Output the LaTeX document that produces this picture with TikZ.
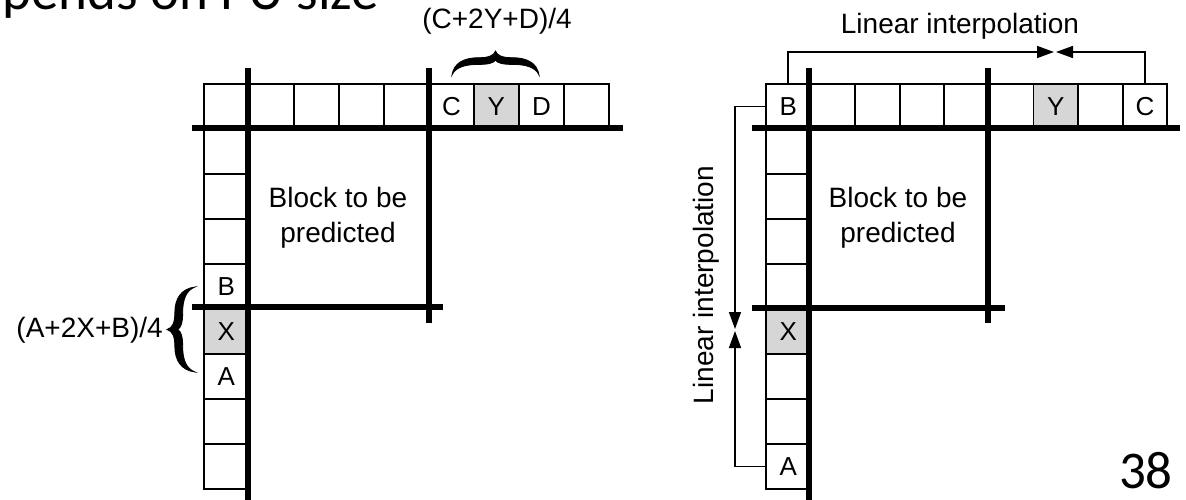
\documentclass[tikz,border=0pt]{standalone}
\usepackage{fontspec}
\setmainfont{Liberation Sans}
\newfontfamily\calibrifont{Carlito}
\usetikzlibrary{arrows.meta}
\begin{document}
\begin{tikzpicture}[x=1pt,y=-1pt,
  cellbox/.style={draw, line width=1.8pt, minimum width=45pt, minimum height=45pt, inner sep=0pt, anchor=north west, font=\fontsize{26}{30}\selectfont},
  rcellbox/.style={cellbox, minimum width=44.6pt},
  shaded/.style={fill=black!16},
  thickline/.style={line width=5.5pt},
  conn/.style={line width=1.6pt, -{Triangle[length=17pt,width=12pt]}},
  lbl/.style={font=\fontsize{28}{35}\selectfont, inner sep=0pt},
  bracefill/.style={fill=black, draw=black, line width=0.8pt}
  ]
\clip (0,0) rectangle (1186,500);
\fill[white] (0,0) rectangle (1186,500);

% title (cut at top) and page number
\node[anchor=base west, inner sep=0pt, font=\calibrifont\fontsize{55}{60}\selectfont] (title) at (2,10) {pends on PU size};
\node[anchor=base east, inner sep=0pt, font=\calibrifont\fontsize{53}{58}\selectfont] (pagenum) at (1173,488) {38};

% ---------------- left diagram ----------------
\foreach \i in {1,2,3,4,5,9}
  \node[cellbox] (Lt\i) at ({203+45*(\i-1)},83) {};
\node[cellbox] (LC) at ({203+45*5},83) {C};
\node[cellbox, shaded] (LY) at ({203+45*6},83) {Y};
\node[cellbox] (LD) at ({203+45*7},83) {D};
\foreach \r in {2,3,4,8,9}
  \node[cellbox] (Lc\r) at (203,{83+45*(\r-1)}) {};
\node[cellbox] (LB) at (203,{83+45*4}) {B};
\node[cellbox, shaded] (LX) at (203,{83+45*5}) {X};
\node[cellbox] (LA) at (203,{83+45*6}) {A};

\draw[thickline] (192,128) -- (623,128);
\draw[thickline] (248,68) -- (248,505);
\draw[thickline] (192,307) -- (443,307);
\draw[thickline] (429,68) -- (429,323);

\node[lbl, align=center] (Lblock) at (338,218) {Block to be\\predicted};

% top brace
\begin{scope}[shift={(452,75)}, xscale=87, yscale=-24]
  \filldraw[bracefill] (0,0) .. controls (0.02,0.5) and (0.14,0.72) .. (0.3,0.72)
    .. controls (0.42,0.72) and (0.48,0.8) .. (0.5,1)
    .. controls (0.52,0.8) and (0.58,0.72) .. (0.7,0.72)
    .. controls (0.86,0.72) and (0.98,0.5) .. (1,0)
    .. controls (0.96,0.32) and (0.85,0.44) .. (0.7,0.44)
    .. controls (0.58,0.44) and (0.52,0.5) .. (0.5,0.62)
    .. controls (0.48,0.5) and (0.42,0.44) .. (0.3,0.44)
    .. controls (0.15,0.44) and (0.04,0.32) .. (0,0) -- cycle;
\end{scope}
\node[lbl] (Lcyd) at (497,21) {(C+2Y+D)/4};

% left brace
\begin{scope}[shift={(195,372)}, rotate=90, xscale=85, yscale=-28]
  \filldraw[bracefill] (0,0) .. controls (0.02,0.5) and (0.14,0.72) .. (0.3,0.72)
    .. controls (0.42,0.72) and (0.48,0.8) .. (0.5,1)
    .. controls (0.52,0.8) and (0.58,0.72) .. (0.7,0.72)
    .. controls (0.86,0.72) and (0.98,0.5) .. (1,0)
    .. controls (0.96,0.32) and (0.85,0.44) .. (0.7,0.44)
    .. controls (0.58,0.44) and (0.52,0.5) .. (0.5,0.62)
    .. controls (0.48,0.5) and (0.42,0.44) .. (0.3,0.44)
    .. controls (0.15,0.44) and (0.04,0.32) .. (0,0) -- cycle;
\end{scope}
\node[lbl, anchor=east] (Laxb) at (163,330) {(A+2X+B)/4};

% ---------------- right diagram ----------------
\node[rcellbox] (RB) at (765,83) {B};
\foreach \i in {2,3,4,5,6,8}
  \node[rcellbox] (Rt\i) at ({765+44.6*(\i-1)},83) {};
\node[rcellbox, shaded] (RY) at ({765+44.6*6},83) {Y};
\node[rcellbox] (RC) at ({765+44.6*8},83) {C};
\foreach \r in {2,3,4,5,7,8}
  \node[rcellbox] (Rc\r) at (765,{83+45*(\r-1)}) {};
\node[rcellbox, shaded] (RX) at (765,{83+45*5}) {X};
\node[rcellbox] (RA) at (765,{83+45*8}) {A};

\draw[thickline] (752,128) -- (1180,128);
\draw[thickline] (809,68) -- (809,505);
\draw[thickline] (752,308) -- (1005,308);
\draw[thickline] (988,68) -- (988,323);

\node[lbl, align=center] (Rblock) at (898,218) {Block to be\\predicted};

\coordinate (tipA) at (1054,52);
\coordinate (tipB) at (1056,52);
\coordinate (tipC) at (735,329);
\coordinate (tipD) at (735,331);
\draw[conn] (RB.north) |- (tipA);
\draw[conn] (RC.north) |- (tipB);
\draw[conn] (RB.west) -| (tipC);
\draw[conn] (RA.west) -| (tipD);

\node[lbl] (Rlinh) at (960,26) {Linear interpolation};
\node[lbl, rotate=90] (Rlinv) at (706,285) {Linear interpolation};
\end{tikzpicture}
\end{document}
